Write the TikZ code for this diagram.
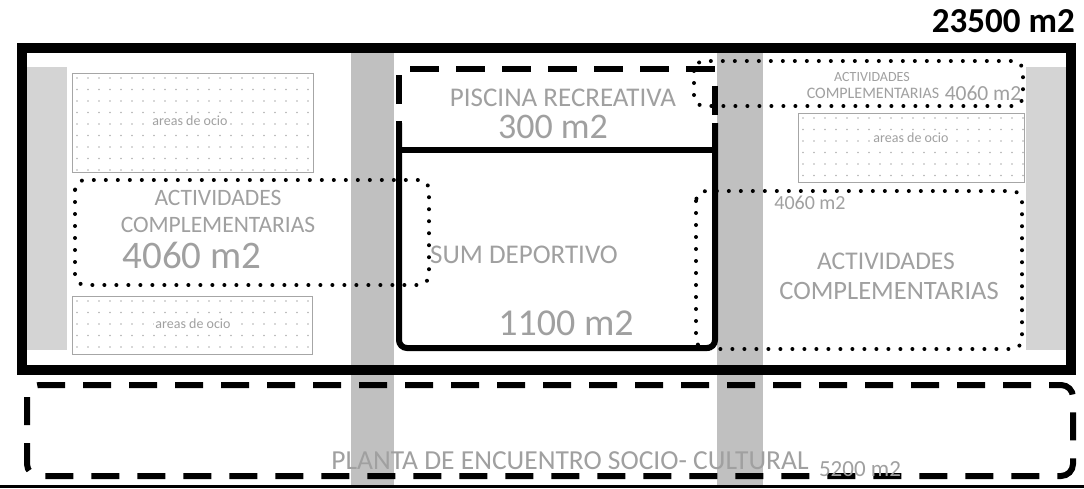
\documentclass[tikz,border=0pt]{standalone}
\usepackage{fontspec}
\setmainfont{Carlito}
\definecolor{txtgray}{RGB}{160,160,160}
\definecolor{stripgray}{RGB}{192,192,192}
\definecolor{sidegray}{RGB}{212,212,212}
\definecolor{dotgray}{RGB}{178,178,178}

\begin{document}
\begin{tikzpicture}[x=1pt,y=-1pt,
    wall/.style={line width=10pt},
    sumline/.style={line width=6pt},
    dashline/.style={line width=6.5pt, dash pattern=on 29pt off 17pt},
    dotline/.style={line width=4pt, line cap=round, dash pattern=on 0pt off 12pt, rounded corners=10pt},
    ociobox/.style={draw=gray!70, line width=0.8pt},
    lbl/.style={text=txtgray, inner sep=0pt}]

    \useasboundingbox[fill=white] (0,0) rectangle (1084,488);

    % gray strips (circulations)
    \fill[sidegray] (27,67) rectangle (67,350);
    \fill[sidegray] (1026,67) rectangle (1066,350);
    \fill[stripgray] (351,53) rectangle (394,488);
    \fill[stripgray] (717,53) rectangle (763,488);

    % dotted leisure areas
    \foreach \bx/\by/\ex/\ey in {72/73/313/172, 72/296/312/354, 798/113/1024/182} {
      \begin{scope}
        \clip (\bx,\by) rectangle (\ex,\ey);
        \foreach \xx in {0,11,...,250}
          \foreach \yy in {0,11.5,...,110}
            \fill[dotgray] (\bx+5+\xx,\by+5+\yy) circle (0.8);
      \end{scope}
      \draw[ociobox] (\bx,\by) rectangle (\ex,\ey);
    }
    \node[lbl, fill=white, inner sep=1pt, font=\fontsize{14}{16}\selectfont] (ocioA) at (190,121) {areas de ocio};
    \node[lbl, fill=white, inner sep=1pt, font=\fontsize{14}{16}\selectfont] (ocioB) at (193,324) {areas de ocio};
    \node[lbl, fill=white, inner sep=1pt, font=\fontsize{14}{16}\selectfont] (ocioC) at (911,138) {areas de ocio};

    % site boundary
    \draw[wall] (22,48) rectangle (1071,370);
    \node[anchor=base east, inner sep=0pt, font=\fontsize{35}{40}\selectfont\bfseries] (total) at (1075,32) {23500 m2};

    % lower level, dashed
    \draw[line width=6pt, dash pattern=on 28pt off 18pt, rounded corners=12pt] (27,385) rectangle (1073,476);
    \draw[line width=3pt] (0,486.5) -- (1084,486.5);

    % pool and sports hall
    \draw[dashline] (399,150) -- (399,69) -- (715,69) -- (715,150);
    \draw[sumline] (399,150) -- (715,150);
    \draw[sumline, rounded corners=8pt] (399,123) -- (399,348) -- (715,348) -- (715,123);

    % complementary activities
    \draw[dotline] (75,180) rectangle (429,285);
    \draw[dotline] (694,61) rectangle (1023,106);
    \draw[dotline] (696,191) rectangle (1022,349);

    % labels
    \node[lbl, font=\fontsize{27}{30}\selectfont] (piscina) at (563,98) {PISCINA RECREATIVA};
    \node[lbl, font=\fontsize{36}{40}\selectfont] (piscinaM) at (553,127) {300 m2};
    \node[lbl, font=\fontsize{27}{30}\selectfont] (sum) at (524,255) {SUM DEPORTIVO};
    \node[lbl, font=\fontsize{38}{42}\selectfont] (sumM) at (566,323) {1100 m2};

    \node[lbl, font=\fontsize{23.5}{27}\selectfont] (actA) at (218,198) {ACTIVIDADES};
    \node[lbl, font=\fontsize{23.5}{27}\selectfont] (compA) at (218,225) {COMPLEMENTARIAS};
    \node[lbl, font=\fontsize{39}{43}\selectfont] (actAM) at (192,255) {4060 m2};

    \node[lbl, font=\fontsize{14}{16}\selectfont] (actB) at (872,77) {ACTIVIDADES};
    \node[lbl, font=\fontsize{16}{18}\selectfont] (compB) at (873,93) {COMPLEMENTARIAS};
    \node[lbl, font=\fontsize{21.5}{24}\selectfont] (actBM) at (983,93) {4060 m2};

    \node[lbl, font=\fontsize{20}{23}\selectfont] (actCM) at (810,203) {4060 m2};
    \node[lbl, font=\fontsize{25.5}{29}\selectfont] (actC) at (886,261) {ACTIVIDADES};
    \node[lbl, font=\fontsize{26.5}{30}\selectfont] (compC) at (889,291) {COMPLEMENTARIAS};

    \node[lbl, font=\fontsize{27.5}{31}\selectfont] (planta) at (570,461) {PLANTA DE ENCUENTRO SOCIO- CULTURAL};
    \node[lbl, font=\fontsize{23}{26}\selectfont] (plantaM) at (860,469) {5200 m2};

\end{tikzpicture}
\end{document}
